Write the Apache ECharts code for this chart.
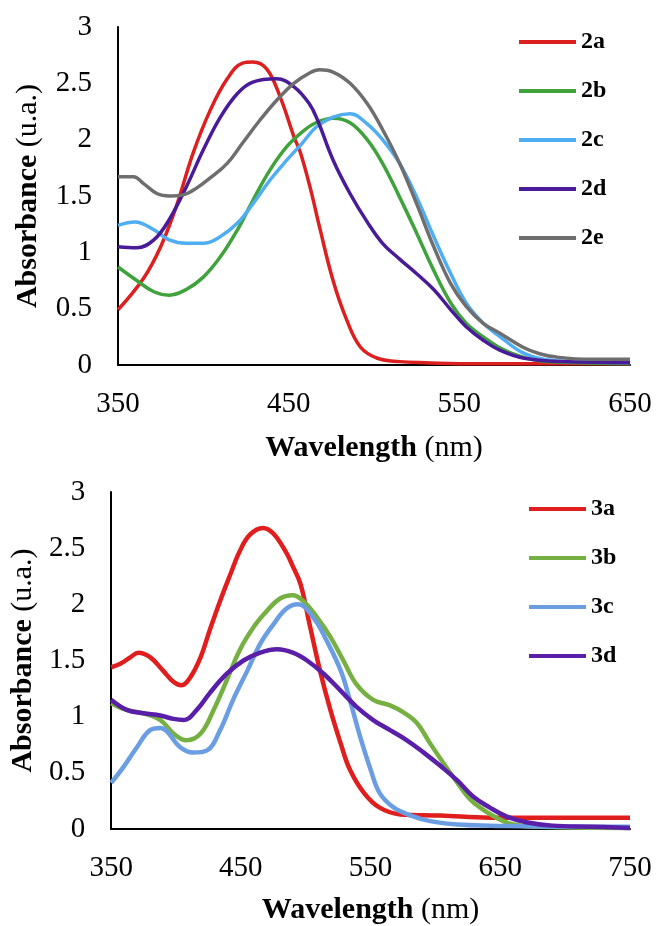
<!DOCTYPE html>
<html>
<head>
<meta charset="utf-8">
<script src="https://cdn.jsdelivr.net/npm/echarts@6/dist/echarts.min.js"></script>
<style>
html,body{margin:0;padding:0;background:#fff;}
#chart{width:656px;height:926px;}
</style>
</head>
<body>
<div id="chart"></div>
<script>
// ---- Top panel (2a-2e) ----
const wl2a = [350,365,375,384,394,404,414,423,429,437,445,453,457,463,468,476,484,492,502,515,530,560,600,650];
const ab2a = [0.49,0.77,1.05,1.40,1.88,2.26,2.54,2.68,2.69,2.63,2.38,2.03,1.88,1.55,1.23,0.75,0.40,0.16,0.06,0.03,0.02,0.01,0.01,0.01];
const wl2b = [350,361,371,380,390,400,410,420,429,439,449,458,466,476,486,496,505,515,525,535,545,554,564,574,585,600,620,650];
const ab2b = [0.87,0.75,0.65,0.62,0.67,0.78,0.96,1.20,1.46,1.73,1.94,2.07,2.15,2.19,2.15,2.00,1.79,1.49,1.17,0.84,0.55,0.37,0.25,0.15,0.08,0.03,0.02,0.01];
const wl2c = [350,360,371,380,390,400,410,420,429,439,449,458,466,476,486,496,505,515,525,535,545,554,564,574,587,600,620,650];
const ab2c = [1.24,1.27,1.20,1.11,1.08,1.08,1.14,1.26,1.43,1.64,1.82,1.97,2.11,2.20,2.23,2.14,2.00,1.79,1.49,1.14,0.81,0.55,0.37,0.25,0.11,0.05,0.03,0.02];
const wl2d = [350,361,371,380,390,400,410,420,429,443,453,462,467,476,486,496,505,515,525,535,545,554,564,574,588,610,650];
const ab2d = [1.05,1.04,1.11,1.29,1.58,1.91,2.20,2.41,2.51,2.54,2.47,2.32,2.17,1.82,1.52,1.27,1.08,0.94,0.81,0.67,0.49,0.34,0.22,0.13,0.06,0.03,0.02];
const wl2e = [350,359,365,373,380,388,396,404,414,423,433,443,453,462,468,476,486,496,505,515,525,535,545,554,564,574,587,597,607,627,650];
const ab2e = [1.67,1.67,1.61,1.52,1.50,1.51,1.57,1.66,1.79,1.97,2.17,2.35,2.50,2.59,2.62,2.60,2.50,2.32,2.09,1.79,1.43,1.05,0.72,0.52,0.37,0.28,0.16,0.10,0.07,0.05,0.05];

// ---- Bottom panel (3a-3d) ----
const wl3a = [350,357,365,371,380,390,398,404,411,419,426,434,442,449,457,467,475,485,490,496,503,511,519,527,534,545,557,573,604,642,700,750];
const ab3a = [1.44,1.47,1.53,1.57,1.53,1.41,1.31,1.28,1.35,1.53,1.77,2.03,2.27,2.47,2.62,2.68,2.63,2.46,2.34,2.18,1.82,1.41,1.06,0.76,0.53,0.32,0.19,0.13,0.12,0.10,0.10,0.10];
const wl3b = [350,362,375,388,398,408,419,429,439,449,460,470,480,490,498,509,519,529,539,552,565,575,586,596,606,617,627,637,647,660,680,750];
const ab3b = [1.12,1.06,1.03,0.97,0.85,0.79,0.85,1.06,1.32,1.59,1.80,1.94,2.05,2.08,2.03,1.88,1.71,1.50,1.29,1.15,1.10,1.04,0.94,0.76,0.59,0.41,0.26,0.17,0.10,0.04,0.02,0.01];
const wl3c = [350,360,370,380,388,393,403,413,424,434,444,455,465,475,485,494,506,516,527,534,542,550,557,568,581,596,617,642,700,750];
const ab3c = [0.41,0.56,0.73,0.88,0.90,0.87,0.73,0.68,0.70,0.88,1.15,1.41,1.65,1.82,1.96,2.00,1.88,1.68,1.41,1.15,0.82,0.53,0.32,0.19,0.12,0.07,0.04,0.03,0.02,0.02];
const wl3d = [350,362,375,388,398,406,416,426,439,452,465,478,490,501,514,527,539,552,565,578,591,604,617,629,642,655,670,690,720,750];
const ab3d = [1.15,1.06,1.03,1.01,0.98,0.97,1.06,1.21,1.38,1.50,1.57,1.60,1.57,1.50,1.38,1.23,1.09,0.97,0.88,0.79,0.68,0.56,0.43,0.29,0.19,0.11,0.06,0.03,0.02,0.01];

const xTicksTop = [350,450,550,650];
const xTicksBottom = [350,450,550,650,750];
const yTicks = [0,0.5,1,1.5,2,2.5,3];
const namesTop = ['2a','2b','2c','2d','2e'];
const namesBottom = ['3a','3b','3c','3d'];

const zip = (xs, ys) => xs.map((x, i) => [x, ys[i]]);
const serif = '"Liberation Serif","Times New Roman",serif';

const topSeries = [[wl2a,ab2a,'#dc1f1f'],[wl2b,ab2b,'#3fa23c'],[wl2c,ab2c,'#4fadf2'],[wl2d,ab2d,'#4a1b98'],[wl2e,ab2e,'#6e6e6e']];
const botSeries = [[wl3a,ab3a,'#e01e1e'],[wl3b,ab3b,'#76b043'],[wl3c,ab3c,'#6b9de2'],[wl3d,ab3d,'#5a1fa8']];

const series = [];
topSeries.forEach((s, i) => series.push({
  name: namesTop[i], type: 'line', xAxisIndex: 0, yAxisIndex: 0,
  data: zip(s[0], s[1]), showSymbol: false, smooth: 0.4,
  color: s[2], lineStyle: {color: s[2], width: 3.5}, z: 2 + i
}));
botSeries.forEach((s, i) => series.push({
  name: namesBottom[i], type: 'line', xAxisIndex: 1, yAxisIndex: 1,
  data: zip(s[0], s[1]), showSymbol: false, smooth: 0.4,
  color: s[2], lineStyle: {color: s[2], width: 4.5}, z: 2 + i
}));

function xAxis(gridIndex, ticks, gap) {
  return {
    type: 'value', gridIndex, min: ticks[0], max: ticks[ticks.length-1], interval: 100,
    axisLine: {show: true, onZero: false, lineStyle: {color: '#000', width: 2}},
    axisTick: {show: false}, splitLine: {show: false},
    axisLabel: {color: '#000', fontFamily: serif, fontSize: 29, margin: 25},
    name: '{b|Wavelength} (nm)', nameLocation: 'middle', nameGap: gap,
    nameTextStyle: {color: '#000', fontFamily: serif, fontSize: 30,
      rich: {b: {fontWeight: 'bold', fontFamily: serif, fontSize: 30, color: '#000'}}}
  };
}
function yAxis(gridIndex, gap) {
  return {
    type: 'value', gridIndex, min: 0, max: 3, interval: 0.5,
    axisLine: {show: true, lineStyle: {color: '#000', width: 2}},
    axisTick: {show: false}, splitLine: {show: false},
    axisLabel: {color: '#000', fontFamily: serif, fontSize: 29, margin: 26},
    name: '{b|Absorbance} (u.a.)', nameLocation: 'middle', nameGap: gap,
    nameTextStyle: {color: '#000', fontFamily: serif, fontSize: 30,
      rich: {b: {fontWeight: 'bold', fontFamily: serif, fontSize: 30, color: '#000'}}}
  };
}

const legendText = {fontFamily: serif, fontWeight: 'bold', fontSize: 24, color: '#000'};
const option = {
  animation: false,
  backgroundColor: '#fff',
  grid: [
    {left: 118, top: 27, width: 512, height: 338},
    {left: 111, top: 492, width: 519, height: 339}
  ],
  xAxis: [xAxis(0, xTicksTop, 68), xAxis(1, xTicksBottom, 66)],
  yAxis: [yAxis(0, 75), yAxis(1, 72)],
  legend: [
    {data: namesTop, orient: 'vertical', left: 514, top: 25, itemWidth: 57, itemHeight: 4, itemGap: 25,
     icon: 'rect', textStyle: legendText},
    {data: namesBottom, orient: 'vertical', left: 524, top: 492, itemWidth: 57, itemHeight: 4, itemGap: 25,
     icon: 'rect', textStyle: legendText}
  ],
  series
};
const chart = echarts.init(document.getElementById('chart'), null, {renderer: 'canvas'});
chart.setOption(option);
</script>
</body>
</html>
